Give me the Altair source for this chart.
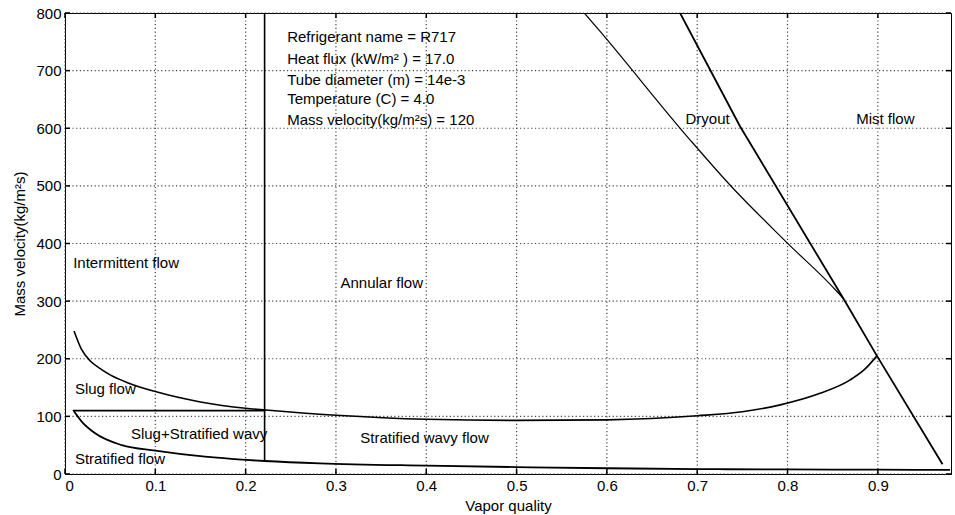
import altair as alt
import pandas as pd

# ---- data ----
upper_x = [0.01, 0.018, 0.028, 0.039, 0.05, 0.07, 0.1, 0.15, 0.2, 0.222, 0.3, 0.4, 0.5, 0.6, 0.7, 0.75, 0.792, 0.836, 0.869, 0.885, 0.899]
upper_y = [248, 217, 196, 183, 172, 158, 143, 125, 114, 111, 102, 95, 93, 94, 101, 108, 120, 140, 163, 181, 205]

strat_x = [0.009, 0.0185, 0.033, 0.063, 0.1, 0.155, 0.2, 0.221, 0.282, 0.4, 0.5, 0.6, 0.7, 0.8, 0.9, 0.98]
strat_y = [111, 91, 71, 50, 40.5, 30, 24.5, 22.6, 18.5, 14.5, 12, 10, 8.5, 8, 7.5, 7]

horiz_x = [0.01, 0.222]
horiz_y = [110, 110]

vert_x = [0.221, 0.221]
vert_y = [22, 800]

dryA_x = [0.575, 0.5925, 0.692, 0.736, 0.799, 0.854, 0.862]
dryA_y = [800, 768, 580, 502, 402, 318, 304]

dryB_x = [0.681, 0.7475, 0.862, 0.899, 0.9716]
dryB_y = [800, 603, 304, 205, 17]

label_text = ["Intermittent flow", "Annular flow", "Slug flow", "Slug+Stratified wavy",
              "Stratified flow", "Stratified wavy flow", "Dryout", "Mist flow"]
label_x = [0.009, 0.305, 0.011, 0.073, 0.011, 0.327, 0.687, 0.876]
label_y = [366, 332, 148, 69, 26, 62.5, 616, 616]

info_text = ["Refrigerant name = R717", "Heat flux (kW/m\u00b2 ) = 17.0", "Tube diameter (m) = 14e-3",
             "Temperature (C) = 4.0", "Mass velocity(kg/m\u00b2s) = 120"]
info_x = [0.246, 0.246, 0.246, 0.246, 0.246]
info_y = [759, 721, 684, 651, 615]

x_ticks = [0, 0.1, 0.2, 0.3, 0.4, 0.5, 0.6, 0.7, 0.8, 0.9]
y_ticks = [0, 100, 200, 300, 400, 500, 600, 700, 800]

W, H = 886, 461
FONT = "Liberation Sans"


def make_df(series_list):
    rows = []
    for name, xs_, ys_, w in series_list:
        for i, (a, b) in enumerate(zip(xs_, ys_)):
            rows.append({"series": name, "x": a, "y": b, "order": i, "w": w})
    return pd.DataFrame(rows)


curves_df = make_df([("upper", upper_x, upper_y, 1.6), ("strat", strat_x, strat_y, 1.8),
                     ("dryA", dryA_x, dryA_y, 1.2)])
straight_df = make_df([("horiz", horiz_x, horiz_y, 1.6), ("vert", vert_x, vert_y, 1.6),
                       ("dryB", dryB_x, dryB_y, 1.8)])

xs = alt.Scale(domain=[0, 0.981], nice=False, zero=False)
ys = alt.Scale(domain=[0, 800], nice=False)

xt_df = pd.DataFrame({"v": x_ticks})
yt_df = pd.DataFrame({"v": y_ticks})

# dotted grid drawn from the tick lists
grid_x = alt.Chart(xt_df).mark_rule(color="#444444", strokeWidth=1.2, strokeDash=[1.2, 2.5]).encode(
    x=alt.X("v:Q", scale=xs, axis=alt.Axis(values=x_ticks, title="Vapor quality", grid=False,
                                            ticks=False, labelPadding=4, titlePadding=5, format="~g")),
    y=alt.value(0), y2=alt.value(H))
grid_y = alt.Chart(yt_df).mark_rule(color="#444444", strokeWidth=1.2, strokeDash=[1.2, 2.5]).encode(
    y=alt.Y("v:Q", scale=ys, axis=alt.Axis(values=y_ticks, title="Mass velocity(kg/m\u00b2s)", grid=False,
                                            ticks=False, labelPadding=4, titlePadding=8, format="d")),
    x=alt.value(0), x2=alt.value(W))

curves = alt.Chart(curves_df).mark_line(color="black", clip=True, interpolate="monotone").encode(
    x=alt.X("x:Q", scale=xs),
    y=alt.Y("y:Q", scale=ys),
    detail="series:N",
    order="order:Q",
    strokeWidth=alt.StrokeWidth("w:Q", scale=None),
)
straight = alt.Chart(straight_df).mark_line(color="black", clip=True).encode(
    x=alt.X("x:Q", scale=xs),
    y=alt.Y("y:Q", scale=ys),
    detail="series:N",
    order="order:Q",
    strokeWidth=alt.StrokeWidth("w:Q", scale=None),
)

labels_df = pd.DataFrame({"t": label_text, "x": label_x, "y": label_y})
labels = alt.Chart(labels_df).mark_text(align="left", baseline="middle", font=FONT,
                                        fontSize=15, color="black").encode(
    x=alt.X("x:Q", scale=xs), y=alt.Y("y:Q", scale=ys), text="t:N")

info_df = pd.DataFrame({"t": info_text, "x": info_x, "y": info_y})
info = alt.Chart(info_df).mark_text(align="left", baseline="middle", font=FONT,
                                    fontSize=15, color="black").encode(
    x=alt.X("x:Q", scale=xs), y=alt.Y("y:Q", scale=ys), text="t:N")

tk = 5
xt_bottom = alt.Chart(xt_df).mark_rule(color="black", strokeWidth=1.5).encode(
    x=alt.X("v:Q", scale=xs), y=alt.value(H), y2=alt.value(H - tk))
xt_top = alt.Chart(xt_df).mark_rule(color="black", strokeWidth=1.5).encode(
    x=alt.X("v:Q", scale=xs), y=alt.value(0), y2=alt.value(tk))
yt_left = alt.Chart(yt_df).mark_rule(color="black", strokeWidth=1.5).encode(
    y=alt.Y("v:Q", scale=ys), x=alt.value(0), x2=alt.value(tk))
yt_right = alt.Chart(yt_df).mark_rule(color="black", strokeWidth=1.5).encode(
    y=alt.Y("v:Q", scale=ys), x=alt.value(W), x2=alt.value(W - tk))

chart = alt.layer(grid_x, grid_y, curves, straight, labels, info,
                  xt_bottom, xt_top, yt_left, yt_right).properties(
    width=W, height=H,
    autosize=alt.AutoSizeParams(type="none"),
    padding={"left": 65, "top": 13, "right": 4, "bottom": 41},
    background="white",
).configure_view(
    stroke="black", strokeWidth=1
).configure_axis(
    domainColor="black", domainWidth=1,
    labelFont=FONT, labelFontSize=15, labelColor="black",
    titleFont=FONT, titleFontSize=15, titleColor="black", titleFontWeight="normal",
)

chart.save("out.html", embed_options={"renderer": "svg", "actions": False})
